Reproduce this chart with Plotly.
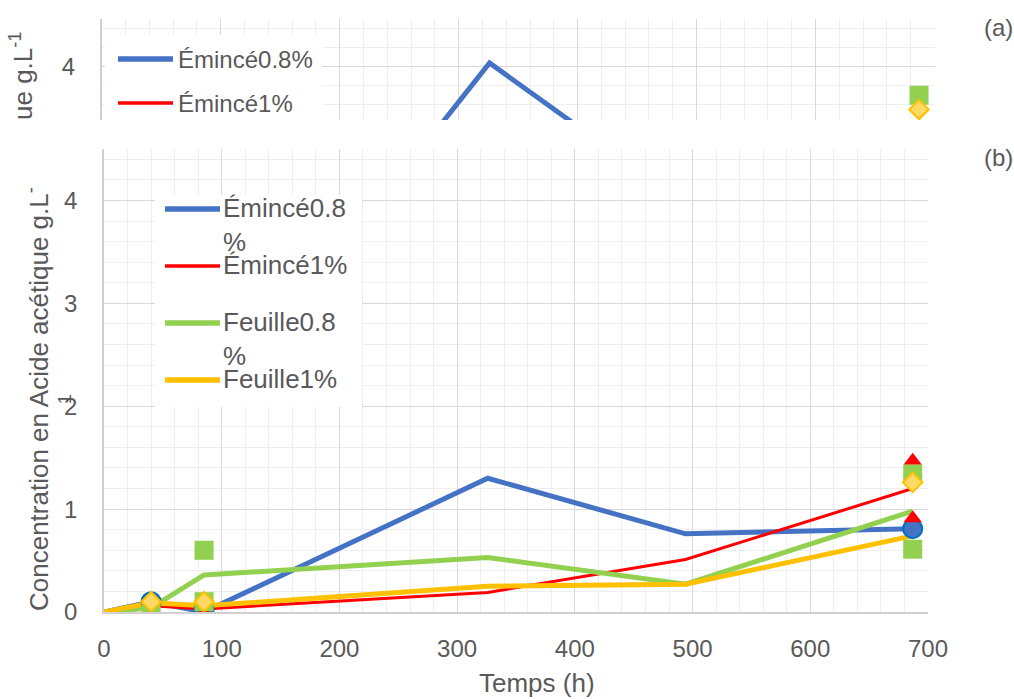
import plotly.graph_objects as go

W, H = 1014, 699
FONT = "Liberation Sans, Arial, sans-serif"
TXT = "#595959"

# sampling times (h)
temps = [0, 40, 85, 326, 494, 687]

# panel (b): mean acetic acid concentration (g/L)
b_emince_08 = [0, 0.10, 0.00, 1.30, 0.76, 0.81]
b_emince_1 = [0, 0.06, 0.03, 0.19, 0.51, 1.20]
b_feuille_08 = [0, 0.04, 0.36, 0.53, 0.27, 0.98]
b_feuille_1 = [0, 0.09, 0.06, 0.25, 0.27, 0.74]

# panel (b): individual replicate measurements
b_rep_emince_08_t = [40, 85, 687]
b_rep_emince_08 = [0.10, 0.02, 0.81]
b_rep_emince_1_t = [85, 687, 687]
b_rep_emince_1 = [0.00, 1.47, 0.91]
b_rep_feuille_08_t = [40, 85, 85, 687, 687]
b_rep_feuille_08 = [0.00, 0.60, 0.10, 1.34, 0.61]
b_rep_feuille_1_t = [40, 85, 687]
b_rep_feuille_1 = [0.10, 0.10, 1.26]

# panel (a): only the upper part of the scale is shown
a_temps = [85, 326, 494]
a_emince_08 = [0.23, 4.04, 2.53]
a_rep_feuille_08_t = [687]
a_rep_feuille_08 = [3.70]
a_rep_feuille_1_t = [687]
a_rep_feuille_1 = [3.55]

x_ticks = [0, 100, 200, 300, 400, 500, 600, 700]

BLUE, RED, GREEN, YELLOW = "#4472C4", "#FF0000", "#92D050", "#FFC000"

series = [
    ("Émincé0.8%", b_emince_08, BLUE, 5),
    ("Émincé1%", b_emince_1, RED, 3),
    ("Feuille0.8%", b_feuille_08, GREEN, 5),
    ("Feuille1%", b_feuille_1, YELLOW, 5),
]


def px_x(x):
    return x / W


def px_y(y):
    return 1 - y / H


fig = go.Figure()

# panel (a)
fig.add_trace(go.Scatter(x=a_temps, y=a_emince_08, mode="lines",
                         line=dict(color=BLUE, width=5),
                         xaxis="x2", yaxis="y2", hoverinfo="skip"))
fig.add_trace(go.Scatter(x=a_rep_feuille_08_t, y=a_rep_feuille_08, mode="markers",
                         marker=dict(symbol="square", size=19, color=GREEN),
                         xaxis="x2", yaxis="y2", hoverinfo="skip"))
fig.add_trace(go.Scatter(x=a_rep_feuille_1_t, y=a_rep_feuille_1, mode="markers",
                         marker=dict(symbol="diamond", size=15, color="#FFD966",
                                     line=dict(color=YELLOW, width=2)),
                         xaxis="x2", yaxis="y2", hoverinfo="skip"))

# panel (b): mean curves
for name, vals, col, lw in series:
    fig.add_trace(go.Scatter(x=temps, y=vals, mode="lines", name=name,
                             line=dict(color=col, width=lw),
                             xaxis="x", yaxis="y", hoverinfo="skip"))

# panel (b): replicates
fig.add_trace(go.Scatter(x=b_rep_emince_08_t, y=b_rep_emince_08, mode="markers",
                         marker=dict(symbol="circle", size=19, color=BLUE,
                                     line=dict(color="#0070C0", width=2)),
                         hoverinfo="skip"))
fig.add_trace(go.Scatter(x=b_rep_emince_1_t, y=b_rep_emince_1, mode="markers",
                         marker=dict(symbol="triangle-up", size=16, color=RED),
                         hoverinfo="skip"))
fig.add_trace(go.Scatter(x=b_rep_feuille_08_t, y=b_rep_feuille_08, mode="markers",
                         marker=dict(symbol="square", size=19, color=GREEN),
                         hoverinfo="skip"))
fig.add_trace(go.Scatter(x=b_rep_feuille_1_t, y=b_rep_feuille_1, mode="markers",
                         marker=dict(symbol="diamond", size=15, color="#FFD966",
                                     line=dict(color=YELLOW, width=2)),
                         hoverinfo="skip"))

grid = dict(showgrid=True, gridcolor="#D9D9D9", gridwidth=1.3, zeroline=False, automargin=False)
xbase = dict(range=[0, 700], tickmode="array", tickvals=x_ticks,
             minor=dict(dtick=20, tick0=0, showgrid=True, gridcolor="#EEEEEE", gridwidth=1.2),
             **grid)
ybase = dict(dtick=1, tick0=0,
             minor=dict(dtick=0.2, tick0=0, showgrid=True, gridcolor="#EEEEEE", gridwidth=1.2),
             **grid)

fig.update_layout(
    width=W, height=H,
    margin=dict(l=0, r=0, t=0, b=0, autoexpand=False),
    paper_bgcolor="white", plot_bgcolor="white",
    showlegend=False,
    font=dict(family=FONT, color=TXT),
    xaxis=dict(domain=[px_x(104), px_x(928)], anchor="y",
               showline=True, linecolor="#D0D0D0", linewidth=1.5,
               ticks="outside", ticklen=14, tickcolor="rgba(0,0,0,0)",
               tickfont=dict(size=24, color=TXT, family=FONT), **xbase),
    yaxis=dict(domain=[px_y(612), px_y(149)], anchor="x", range=[0, 4.5],
               showline=True, linecolor="#D0D0D0", linewidth=1.5,
               ticks="outside", ticklen=20, tickcolor="rgba(0,0,0,0)",
               tickfont=dict(size=24, color=TXT, family=FONT), **ybase),
    xaxis2=dict(domain=[px_x(101.7), px_x(934.5)], anchor="y2",
                showticklabels=False, showline=False, **xbase),
    yaxis2=dict(domain=[px_y(120), px_y(19.3)], anchor="x2", range=[3.44, 4.5],
                showline=True, linecolor="#D0D0D0", linewidth=1.5,
                ticks="outside", ticklen=20, tickcolor="rgba(0,0,0,0)",
                tickfont=dict(size=24, color=TXT, family=FONT), **ybase),
)

shapes = []
annotations = []

# legend of panel (a)
shapes.append(dict(type="rect", xref="paper", yref="paper", layer="above",
                   x0=px_x(105), x1=px_x(322), y0=px_y(120), y1=px_y(35),
                   fillcolor="white", line=dict(width=0)))
for (name, _, col, lw), yy in zip(series[:2], [59, 103]):
    shapes.append(dict(type="line", xref="paper", yref="paper", layer="above",
                       x0=px_x(118), x1=px_x(173), y0=px_y(yy), y1=px_y(yy),
                       line=dict(color=col, width=lw + 0.5)))
    annotations.append(dict(text=name, x=px_x(176), y=px_y(yy + 1), xref="paper", yref="paper",
                            xanchor="left", yanchor="middle", showarrow=False,
                            font=dict(size=24, color=TXT, family=FONT)))

# legend of panel (b)
shapes.append(dict(type="rect", xref="paper", yref="paper", layer="above",
                   x0=px_x(155), x1=px_x(362), y0=px_y(407), y1=px_y(195),
                   fillcolor="white", line=dict(width=0)))
b_labels = ["Émincé0.8<br>%", "Émincé1%", "Feuille0.8<br>%", "Feuille1%"]
for (name, _, col, lw), lab, yy in zip(series, b_labels, [209, 266, 323, 380]):
    shapes.append(dict(type="line", xref="paper", yref="paper", layer="above",
                       x0=px_x(165), x1=px_x(220), y0=px_y(yy), y1=px_y(yy),
                       line=dict(color=col, width=lw + 0.5)))
    annotations.append(dict(text=lab, x=px_x(222), y=px_y(yy - 17), xref="paper", yref="paper",
                            xanchor="left", yanchor="top", align="left", showarrow=False,
                            borderpad=0,
                            font=dict(size=26, color=TXT, family=FONT)))

# axis titles and panel labels
annotations += [
    dict(text="Concentration en Acide acétique g.L<sup>-</sup><br><sup>1</sup>",
         textangle=-90, x=px_x(48), y=px_y(399), xref="paper", yref="paper",
         xanchor="center", yanchor="middle", showarrow=False,
         font=dict(size=26, color=TXT, family=FONT)),
    dict(text="ue g.L<sup>-1</sup>",
         textangle=-90, x=px_x(22), y=px_y(30), xref="paper", yref="paper",
         xanchor="center", yanchor="top", showarrow=False,
         font=dict(size=26, color=TXT, family=FONT)),
    dict(text="Temps (h)", x=px_x(537), y=px_y(683), xref="paper", yref="paper",
         xanchor="center", yanchor="middle", showarrow=False,
         font=dict(size=26, color=TXT, family=FONT)),
    dict(text="(a)", x=px_x(998), y=px_y(27), xref="paper", yref="paper",
         xanchor="center", yanchor="middle", showarrow=False,
         font=dict(size=24, color=TXT, family=FONT)),
    dict(text="(b)", x=px_x(998), y=px_y(157), xref="paper", yref="paper",
         xanchor="center", yanchor="middle", showarrow=False,
         font=dict(size=24, color=TXT, family=FONT)),
]

fig.update_layout(shapes=shapes, annotations=annotations)
fig.write_html("out.html", config={"displayModeBar": False})
